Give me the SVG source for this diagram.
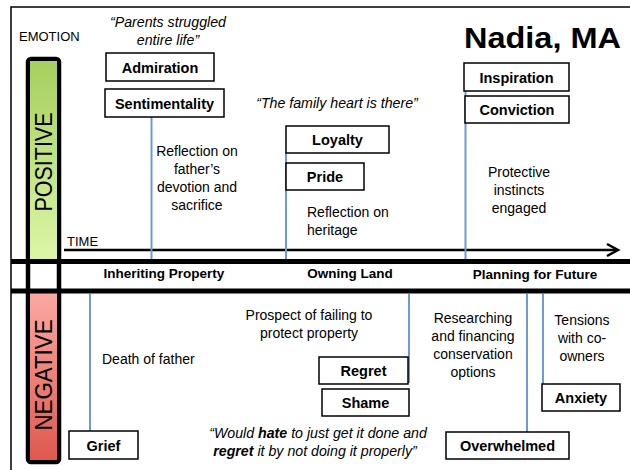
<svg xmlns="http://www.w3.org/2000/svg" width="630" height="470" viewBox="0 0 630 470">
<style>
text{font-family:"Liberation Sans",Arial,sans-serif;fill:#000}
.t{font-size:14px}
.q{font-size:14.2px;font-style:italic}
.b{font-size:14.5px;font-weight:bold}
.lab{font-size:13.5px;font-weight:bold}
.box{fill:#fff;stroke:#000;stroke-width:1.5}
.blue{stroke:#6a9bd4;stroke-width:2;fill:none}
.band{stroke:#000;stroke-width:5}
</style>
<defs>
<linearGradient id="gG" x1="0" y1="0" x2="0" y2="1">
<stop offset="0" stop-color="#a6cf5f"/>
<stop offset="1" stop-color="#dcf6a8"/>
</linearGradient>
<linearGradient id="gR" x1="0" y1="0" x2="0" y2="1">
<stop offset="0" stop-color="#fba9a3"/>
<stop offset="1" stop-color="#de594e"/>
</linearGradient>
</defs>
<rect width="630" height="470" fill="#fff"/>
<rect x="11" y="7" width="640" height="500" fill="none" stroke="#000" stroke-width="1.5"/>

<g id="axis">
<text x="19" y="41" style="font-size:13px">EMOTION</text>
<rect x="28" y="59" width="31" height="403" rx="3" fill="#fff" stroke="#000" stroke-width="4.5"/>
<rect x="30" y="61" width="27" height="200" fill="url(#gG)"/>
<rect x="30" y="292" width="27" height="168" fill="url(#gR)"/>
<text transform="translate(52,162) rotate(-90)" text-anchor="middle" style="font-size:23px" textLength="99" lengthAdjust="spacingAndGlyphs">POSITIVE</text>
<text transform="translate(52,375) rotate(-90)" text-anchor="middle" style="font-size:23px" textLength="111" lengthAdjust="spacingAndGlyphs">NEGATIVE</text>
<line class="band" x1="11" y1="261.5" x2="630" y2="261.5"/>
<line class="band" x1="11" y1="291" x2="630" y2="291"/>
<text x="67" y="246" style="font-size:13px">TIME</text>
<line x1="64" y1="250" x2="616" y2="250" stroke="#000" stroke-width="2.5"/>
<polyline points="607,244 618,250 607,256" fill="none" stroke="#000" stroke-width="2.5"/>
<text x="164" y="278" class="lab" text-anchor="middle">Inheriting Property</text>
<text x="350" y="278" class="lab" text-anchor="middle">Owning Land</text>
<text x="535" y="279" class="lab" text-anchor="middle">Planning for Future</text>
</g>

<text x="464" y="48" style="font-size:30px;font-weight:bold" textLength="157" lengthAdjust="spacingAndGlyphs">Nadia, MA</text>

<g id="connectors">
<line class="blue" x1="151.5" y1="117" x2="151.5" y2="259"/>
<line class="blue" x1="286" y1="152" x2="286" y2="259"/>
<line class="blue" x1="465.5" y1="91" x2="465.5" y2="259"/>
<line class="blue" x1="90" y1="294" x2="90" y2="431"/>
<line class="blue" x1="409" y1="294" x2="409" y2="383"/>
<line class="blue" x1="527" y1="294" x2="527" y2="432"/>
<line class="blue" x1="543" y1="294" x2="543" y2="384"/>
</g>

<g id="inheriting-positive">
<text class="q" text-anchor="middle"><tspan x="168" y="27">“Parents struggled</tspan><tspan x="168" y="45">entire life”</tspan></text>
<rect class="box" x="106" y="53" width="108" height="28"/>
<text x="160" y="73" class="b" text-anchor="middle">Admiration</text>
<rect class="box" x="105" y="89" width="119" height="28"/>
<text x="164.5" y="109" class="b" text-anchor="middle">Sentimentality</text>
<text class="t" text-anchor="middle"><tspan x="197" y="156">Reflection on</tspan><tspan x="197" y="174">father’s</tspan><tspan x="197" y="192">devotion and</tspan><tspan x="197" y="210">sacrifice</tspan></text>
</g>

<g id="owning-positive">
<text x="337" y="108" class="q" text-anchor="middle">“The family heart is there”</text>
<rect class="box" x="286" y="126" width="103" height="27"/>
<text x="337.5" y="145" class="b" text-anchor="middle">Loyalty</text>
<rect class="box" x="286" y="163" width="78" height="27"/>
<text x="325" y="182" class="b" text-anchor="middle">Pride</text>
<text class="t"><tspan x="307" y="217">Reflection on</tspan><tspan x="307" y="235">heritage</tspan></text>
</g>

<g id="planning-positive">
<rect class="box" x="464" y="63" width="105" height="28"/>
<text x="516.5" y="83" class="b" text-anchor="middle">Inspiration</text>
<rect class="box" x="465" y="96" width="104" height="27"/>
<text x="517" y="115" class="b" text-anchor="middle">Conviction</text>
<text class="t" text-anchor="middle"><tspan x="519" y="177">Protective</tspan><tspan x="519" y="195">instincts</tspan><tspan x="519" y="213">engaged</tspan></text>
</g>

<g id="inheriting-negative">
<text x="102" y="364" class="t">Death of father</text>
<rect class="box" x="69" y="431" width="69" height="28"/>
<text x="103.5" y="451" class="b" text-anchor="middle">Grief</text>
</g>

<g id="owning-negative">
<text class="t" text-anchor="middle"><tspan x="309" y="320">Prospect of failing to</tspan><tspan x="309" y="338">protect property</tspan></text>
<rect class="box" x="319" y="357" width="89" height="27"/>
<text x="363.5" y="376" class="b" text-anchor="middle">Regret</text>
<rect class="box" x="322" y="389" width="87" height="27"/>
<text x="365.5" y="408" class="b" text-anchor="middle">Shame</text>
<text class="q" text-anchor="middle"><tspan x="318" y="438">“Would <tspan font-weight="bold">hate</tspan> to just get it done and</tspan><tspan x="315" y="456"><tspan font-weight="bold">regret</tspan> it by not doing it properly”</tspan></text>
</g>

<g id="planning-negative">
<text class="t" text-anchor="middle"><tspan x="473" y="323">Researching</tspan><tspan x="473" y="341">and financing</tspan><tspan x="473" y="359">conservation</tspan><tspan x="473" y="377">options</tspan></text>
<rect class="box" x="446" y="432" width="123" height="27"/>
<text x="507.5" y="451" class="b" text-anchor="middle">Overwhelmed</text>
<text class="t" text-anchor="middle"><tspan x="582" y="325">Tensions</tspan><tspan x="582" y="343">with co-</tspan><tspan x="582" y="361">owners</tspan></text>
<rect class="box" x="542" y="384" width="78" height="27"/>
<text x="581" y="403" class="b" text-anchor="middle">Anxiety</text>
</g>
</svg>
